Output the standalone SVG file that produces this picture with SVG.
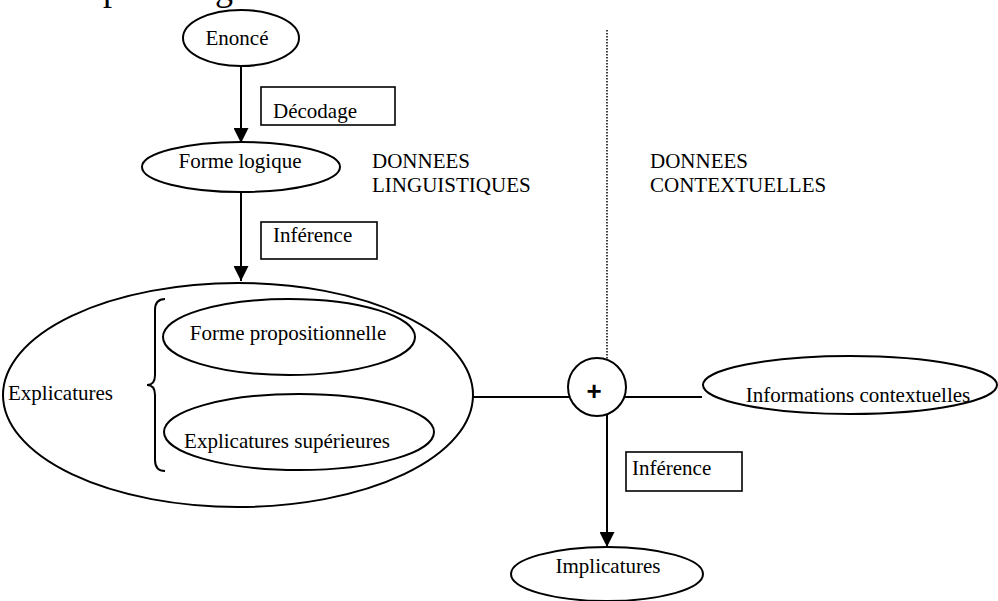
<svg xmlns="http://www.w3.org/2000/svg" width="998" height="601" viewBox="0 0 998 601">
<style>
  .t { font-family: "Liberation Serif", "Times New Roman", serif; font-size: 21px; fill: #000; }
  .node { fill: #fff; stroke: #000; stroke-width: 2; }
  .box { fill: #fff; stroke: #000; stroke-width: 1.6; }
  .line { fill: none; stroke: #000; stroke-width: 2; }
  .dot { fill: none; stroke: #000; stroke-width: 1.5; stroke-dasharray: 1.5 1.5; }
</style>
<defs>
  <marker id="arr" viewBox="0 0 10 10" refX="10" refY="5" markerWidth="15" markerHeight="15" markerUnits="userSpaceOnUse" orient="auto">
    <path d="M0,0 L10,5 L0,10 Z" fill="#000"/>
  </marker>
</defs>
<rect width="998" height="601" fill="#fff"/>

<text class="t" x="4" y="0" style="font-size:36px">sentée par la figure</text>

<g id="connectors">
  <line class="line" x1="241" y1="66" x2="241" y2="143" marker-end="url(#arr)"/>
  <line class="line" x1="241" y1="192" x2="241" y2="281" marker-end="url(#arr)"/>
  <line class="line" x1="473" y1="397" x2="569" y2="397"/>
  <line class="line" x1="625" y1="397" x2="702" y2="397"/>
  <line class="line" x1="607" y1="415" x2="607" y2="547" marker-end="url(#arr)"/>
  <line class="dot" x1="607" y1="30" x2="607" y2="359"/>
</g>

<g id="label-decodage">
  <rect class="box" x="261" y="87" width="134" height="38"/>
  <text class="t" x="273" y="118">Décodage</text>
</g>
<g id="label-inference1">
  <rect class="box" x="261" y="222" width="116" height="37"/>
  <text class="t" x="273" y="242">Inférence</text>
</g>
<g id="label-inference2">
  <rect class="box" x="626" y="452" width="116" height="39"/>
  <text class="t" x="632" y="475">Inférence</text>
</g>

<g id="enonce">
  <ellipse class="node" cx="241" cy="38" rx="58" ry="28"/>
  <text class="t" x="237" y="45" text-anchor="middle">Enoncé</text>
</g>
<g id="forme-logique">
  <ellipse class="node" cx="241" cy="167" rx="99" ry="25"/>
  <text class="t" x="240" y="168" text-anchor="middle">Forme logique</text>
</g>
<g id="donnees-linguistiques">
  <text class="t" x="372" y="168">DONNEES</text>
  <text class="t" x="372" y="192">LINGUISTIQUES</text>
</g>
<g id="donnees-contextuelles">
  <text class="t" x="650" y="168">DONNEES</text>
  <text class="t" x="650" y="192">CONTEXTUELLES</text>
</g>

<g id="explicatures">
  <ellipse class="node" cx="238" cy="395" rx="235" ry="112"/>
  <text class="t" x="8" y="400">Explicatures</text>
  <path class="line" d="M165,299 Q155,299 155,310 L155,375 Q155,385 147,385 Q155,385 155,395 L155,460 Q155,471 165,471"/>
</g>
<g id="forme-propositionnelle">
  <ellipse class="node" cx="289" cy="337" rx="126" ry="38"/>
  <text class="t" x="288" y="340" text-anchor="middle">Forme propositionnelle</text>
</g>
<g id="explicatures-superieures">
  <ellipse class="node" cx="299" cy="432" rx="135" ry="38"/>
  <text class="t" x="287" y="448" text-anchor="middle">Explicatures supérieures</text>
</g>

<g id="plus">
  <circle class="node" cx="597" cy="387" r="29"/>
  <text x="594" y="400" text-anchor="middle" style="font-family:'Liberation Sans',Arial,sans-serif;font-size:26px;font-weight:bold">+</text>
</g>
<g id="informations-contextuelles">
  <ellipse class="node" cx="850" cy="385" rx="147" ry="29"/>
  <text class="t" x="858" y="402" text-anchor="middle">Informations contextuelles</text>
</g>
<g id="implicatures">
  <ellipse class="node" cx="607" cy="574" rx="96" ry="27"/>
  <text class="t" x="608" y="573" text-anchor="middle">Implicatures</text>
</g>
</svg>
